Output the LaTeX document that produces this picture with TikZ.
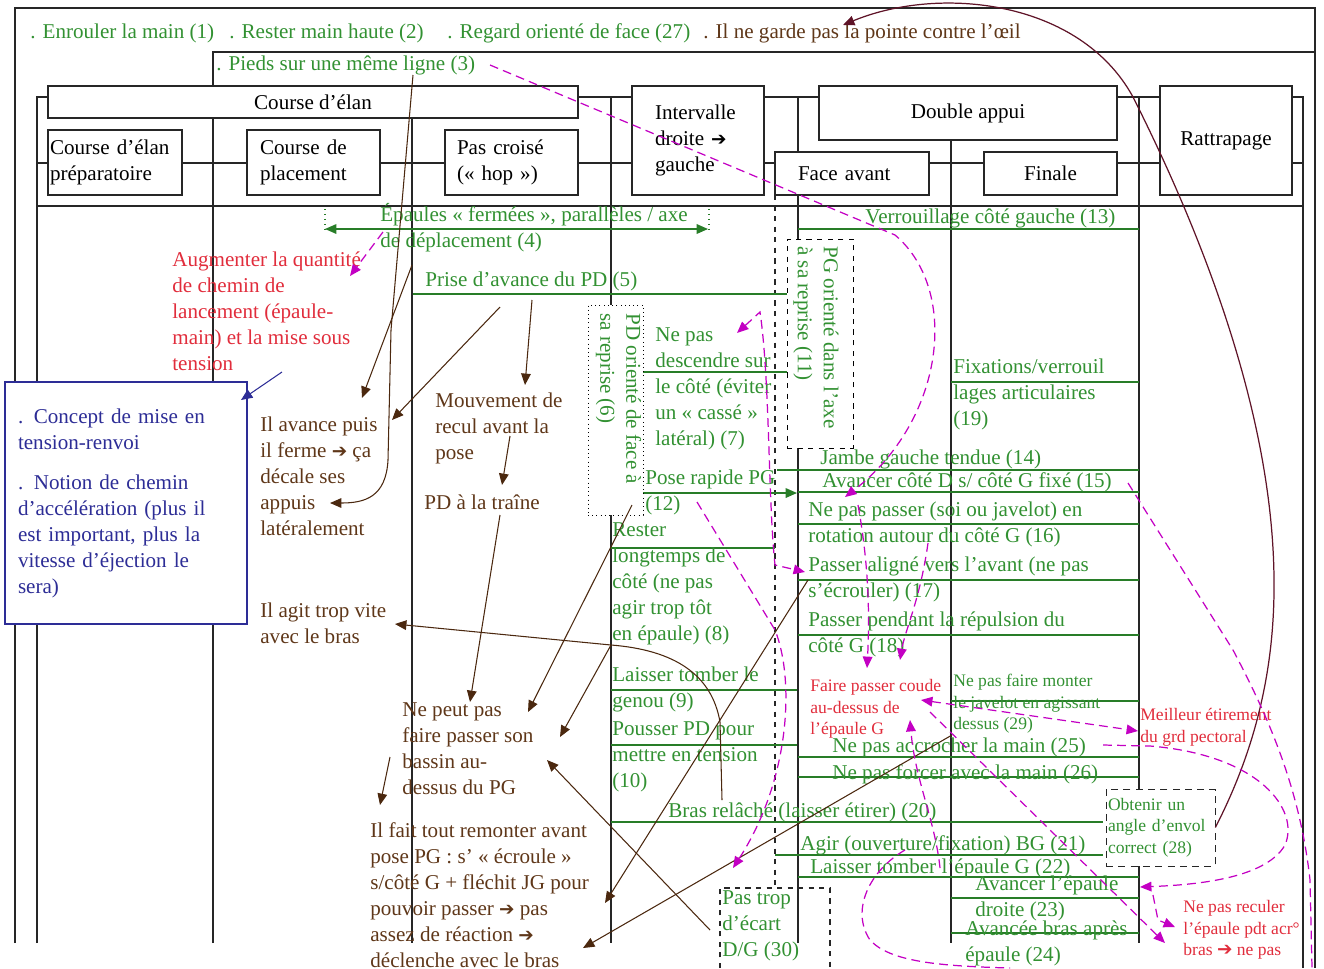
\documentclass[tikz,border=0pt]{standalone}
\usepackage{fontspec}
\setmainfont{Liberation Serif}
\newfontfamily\symfont{DejaVu Sans}
\usetikzlibrary{arrows.meta}

\definecolor{txtgreen}{RGB}{50,145,50}
\definecolor{linegreen}{RGB}{40,125,40}
\definecolor{txtbrown}{RGB}{95,55,25}
\definecolor{arrbrown}{RGB}{75,40,15}
\definecolor{txtred}{RGB}{225,45,60}
\definecolor{txtblue}{RGB}{45,45,150}
\definecolor{pinkdash}{RGB}{195,0,195}
\definecolor{curvered}{RGB}{95,20,40}

\newcommand{\bodyfont}{\fontsize{12}{14.8}\selectfont}
\newcommand{\smallfont}{\fontsize{10}{12.3}\selectfont}
\newcommand{\fleche}{{\symfont\fontsize{10.5}{14.8}\selectfont ➔}}

\tikzset{
  gridline/.style={draw=black!85, line width=0.9pt},
  phase/.style={draw=black!85, line width=0.9pt, fill=white, inner sep=0pt, font=\bodyfont},
  remark/.style={inner sep=0pt, anchor=west, align=left, font=\bodyfont},
  gtext/.style={remark, text=txtgreen},
  btext/.style={remark, text=txtbrown},
  rtext/.style={remark, text=txtred},
  gsmall/.style={remark, text=txtgreen, font=\smallfont},
  rsmall/.style={remark, text=txtred, font=\smallfont},
  gline/.style={draw=linegreen, line width=0.8pt},
  brarrow/.style={draw=arrbrown, line width=0.6pt},
  pkarrow/.style={draw=pinkdash, line width=0.7pt, dash pattern=on 5pt off 3pt},
}

\begin{document}
\begin{tikzpicture}[x=0.02cm, y=-0.02cm, >={Triangle[length=6.5pt,width=5.5pt]}]
\useasboundingbox (0,0) rectangle (1324,968);

% grille des phases
\draw [gridline] (15,943) -- (15,8) -- (1315,8) -- (1315,968);
\draw [gridline] (213,943) -- (213,52) -- (1315,52);
\draw [gridline] (37,943) -- (37,97) -- (1303,97) -- (1303,968);
\draw [gridline] (37,163) -- (1303,163);
\draw [gridline] (37,206) -- (1303,206);
\draw [gridline] (412,118) -- (412,943);
\draw [gridline] (611,97) -- (611,943);
\draw [gridline] (798,97) -- (798,943);
\draw [gridline] (951,140) -- (951,943);
\draw [gridline] (1139,97) -- (1139,943);
\draw [gridline, dashed] (775,195) -- (775,885);
\draw [gridline, dashed] (720,968) -- (720,888) -- (830,888) -- (830,968);

\node [phase, minimum width=10.6cm, minimum height=0.64cm] (elan) at (313,102) {Course d'élan};
\node [phase, minimum width=2.68cm, minimum height=1.3cm, text width=2.6cm, align=left] (prep) at (115,162.5) {Course d'élan\\préparatoire};
\node [phase, minimum width=2.66cm, minimum height=1.3cm, text width=2.14cm, align=left] (placement) at (313.5,162.5) {Course de\\placement};
\node [phase, minimum width=2.66cm, minimum height=1.3cm, text width=2.18cm, align=left] (hop) at (511.5,162.5) {Pas croisé\\(« hop »)};
\node [phase, minimum width=2.64cm, minimum height=2.18cm, text width=1.72cm, align=left] (intervalle) at (698,140.5) {Intervalle\\droite \fleche\\gauche};
\node [phase, minimum width=5.96cm, minimum height=1.08cm] (appui) at (968,113) {Double appui};
\node [phase, minimum width=3.08cm, minimum height=0.86cm, text width=2.16cm, align=left] (faceavant) at (852,173.5) {Face avant};
\node [phase, minimum width=2.66cm, minimum height=0.86cm] (finale) at (1050.5,173.5) {Finale};
\node [phase, minimum width=2.64cm, minimum height=2.18cm] (rattrapage) at (1226,140.5) {Rattrapage};

% lignes vertes
\draw [gline] (798,229) -- (1139,229);
\draw [gline] (413,294) -- (787,294);
\draw [gline] (643,372) -- (787,372);
\draw [gline] (777,470) -- (1139,470);
\draw [gline] (798,492) -- (1139,492);
\draw [gline] (798,524) -- (1139,524);
\draw [gline] (798,580) -- (1139,580);
\draw [gline] (798,635) -- (1139,635);
\draw [gline] (951,382) -- (1139,382);
\draw [gline] (611,548) -- (775,548);
\draw [gline] (611,690) -- (797,690);
\draw [gline] (611,745) -- (797,745);
\draw [gline] (611,822) -- (1103,822);
\draw [gline] (951,701) -- (1139,701);
\draw [gline] (798,757) -- (1139,757);
\draw [gline] (798,777) -- (1139,777);
\draw [gline] (775,855) -- (1103,855);
\draw [gline] (798,877) -- (1139,877);
\draw [gline] (951,898) -- (1139,898);
\draw [gline] (951,933) -- (1139,933);
\draw [gline, dotted] (325,209) -- (325,229);
\draw [gline, dotted] (709,209) -- (709,229);
\draw [gline, <->] (325,229) -- (708,229);
\draw [gline, ->] (643,493) -- (797,493);

\node [draw, dotted, fill=white, minimum width=1.1cm, minimum height=4.2cm, inner sep=0pt] (cadre6) at (615.5,410) {};
\node [gtext, rotate=-90, anchor=west] (reprise6) at (618.5,313) {PD orienté de face à\\sa reprise (6)};
\node [draw, dashed, fill=white, minimum width=1.32cm, minimum height=4.18cm, inner sep=0pt] (cadre11) at (820,343.5) {};
\node [gtext, rotate=-90, anchor=west] (reprise11) at (816,246) {PG orienté dans l'axe\\à sa reprise (11)};
\node [draw=black!85, dash pattern=on 4pt off 3pt, fill=white, minimum width=2.18cm, minimum height=1.54cm, text width=2.1cm, align=left, inner sep=0pt, font=\smallfont, text=txtgreen] (envol) at (1160.5,827.5) {Obtenir un\\angle d'envol\\correct (28)};
\node [draw=txtblue, line width=0.9pt, fill=white, text=txtblue, minimum width=4.84cm, minimum height=4.84cm, text width=4.32cm, align=left, inner sep=0pt, font=\bodyfont] (concept) at (126,503) {. Concept de mise en\\tension-renvoi\\[0.28cm]. Notion de chemin\\d'accélération (plus il\\est important, plus la\\vitesse d'éjection le\\sera)};

% textes
\node [gtext] (enrouler) at (30,33) {. Enrouler la main (1)};
\node [gtext] (rester) at (229,33) {. Rester main haute (2)};
\node [gtext] (regard) at (447,33) {. Regard orienté de face (27)};
\node [btext] (pointe) at (703,33) {. Il ne garde pas la pointe contre l'œil};
\node [gtext] (pieds) at (216,65) {. Pieds sur une même ligne (3)};
\node [gtext] (epaules) at (380,228) {Épaules « fermées », parallèles / axe\\de déplacement (4)};
\node [gtext] (avancepd) at (425,281) {Prise d'avance du PD (5)};
\node [gtext] (descendre) at (655,388.5) {Ne pas\\descendre sur\\le côté (éviter\\un « cassé »\\latéral) (7)};
\node [gtext] (poserapide) at (645,492.5) {Pose rapide PG\\(12)};
\node [gtext] (longtemps) at (612,584) {Rester\\longtemps de\\côté (ne pas\\agir trop tôt\\en épaule) (8)};
\node [gtext] (genou) at (612,689) {Laisser tomber le\\genou (9)};
\node [gtext] (pousser) at (612,757) {Pousser PD pour\\mettre en tension\\(10)};
\node [gtext] (relache) at (668,812) {Bras relâché (laisser étirer) (20)};
\node [gtext] (verrouillage) at (865,218) {Verrouillage côté gauche (13)};
\node [gtext] (fixations) at (953,394.5) {Fixations/verrouil\\lages articulaires\\(19)};
\node [gtext] (jambe) at (820,459) {Jambe gauche tendue (14)};
\node [gtext] (cotefixe) at (822,482) {Avancer côté D s/ côté G fixé (15)};
\node [gtext] (rotation) at (808,524) {Ne pas passer (soi ou javelot) en\\rotation autour du côté G (16)};
\node [gtext] (aligne) at (808,579) {Passer aligné vers l'avant (ne pas\\s'écrouler) (17)};
\node [gtext] (repulsion) at (808,634) {Passer pendant la répulsion du\\côté G (18)};
\node [gtext] (accrocher) at (832,747) {Ne pas accrocher la main (25)};
\node [gtext] (forcer) at (832,774) {Ne pas forcer avec la main (26)};
\node [gtext] (agir) at (800,845) {Agir (ouverture/fixation) BG (21)};
\node [gtext] (tomberepaule) at (810,868) {Laisser tomber l'épaule G (22)};
\node [gtext] (avancerepaule) at (975,898) {Avancer l'épaule\\droite (23)};
\node [gtext] (avanceebras) at (965,943) {Avancée bras après\\épaule (24)};
\node [gtext] (ecart) at (722,926) {Pas trop\\d'écart\\D/G (30)};
\node [gsmall] (monter) at (953,704) {Ne pas faire monter\\le javelot en agissant\\dessus (29)};
\node [rsmall] (coude) at (810,709) {Faire passer coude\\au-dessus de\\l'épaule G};
\node [rsmall] (etirement) at (1140,727) {Meilleur étirement\\du grd pectoral};
\node [rsmall] (reculer) at (1183,930) {Ne pas reculer\\l'épaule pdt acr°\\bras \fleche{} ne pas};
\node [rtext] (augmenter) at (172,311) {Augmenter la quantité\\de chemin de\\lancement (épaule-\\main) et la mise sous\\tension};
\node [btext] (ferme) at (260,476.5) {Il avance puis\\il ferme \fleche{} ça\\décale ses\\appuis\\latéralement};
\node [btext] (recul) at (435,428) {Mouvement de\\recul avant la\\pose};
\node [btext] (traine) at (424,502) {PD à la traîne};
\node [btext] (tropvite) at (260,623) {Il agit trop vite\\avec le bras};
\node [btext] (bassin) at (402,749) {Ne peut pas\\faire passer son\\bassin au-\\dessus du PG};
\node [btext] (remonter) at (370,895.5) {Il fait tout remonter avant\\pose PG : s' « écroule »\\s/côté G + fléchit JG pour\\pouvoir passer \fleche{} pas\\assez de réaction \fleche\\déclenche avec le bras};

% points d'attache des fleches
\coordinate (pieds-a) at (413,75);
\coordinate (appuis-in) at (330,503);
\coordinate (prise-a) at (412,265);
\coordinate (avance-in) at (362,398);
\coordinate (prise-b) at (500,307);
\coordinate (ferme-in) at (392,420);
\coordinate (prise-c) at (532,300);
\coordinate (recul-in) at (525,385);
\coordinate (recul-out) at (510,436);
\coordinate (traine-in) at (502,485);
\coordinate (traine-out) at (500,515);
\coordinate (bassin-in1) at (470,702);
\coordinate (relache-a) at (722,800);
\coordinate (coin8) at (611,645);
\coordinate (vite-in) at (395,624);
\coordinate (rester-a) at (632,505);
\coordinate (bassin-in2) at (528,712);
\coordinate (bassin-in3) at (560,737);
\coordinate (ecart-a) at (710,930);
\coordinate (bassin-in4) at (547,760);
\coordinate (monter-a) at (952,735);
\coordinate (bras-in) at (583,948);
\coordinate (aligne-a) at (808,580);
\coordinate (pouvoir-in) at (605,903);
\coordinate (bassin-out) at (390,757);
\coordinate (remonter-in) at (380,805);
\coordinate (tension-a) at (282,372);
\coordinate (concept-in) at (241,400);
\coordinate (pointe-in) at (843,25);

% fleches brunes
\draw [brarrow, ->] (pieds-a) -- (391,330) -- (388,460) .. controls (386,497) and (365,503) .. (appuis-in);
\draw [brarrow, ->] (prise-a) -- (avance-in);
\draw [brarrow, ->] (prise-b) -- (ferme-in);
\draw [brarrow, ->] (prise-c) -- (recul-in);
\draw [brarrow, ->] (recul-out) -- (traine-in);
\draw [brarrow, ->] (traine-out) -- (bassin-in1);
\draw [brarrow, ->] (relache-a) -- (720,722) .. controls (712,675) and (675,650) .. (coin8) -- (vite-in);
\draw [brarrow, ->] (rester-a) -- (bassin-in2);
\draw [brarrow, ->] (coin8) -- (bassin-in3);
\draw [brarrow, ->] (ecart-a) -- (bassin-in4);
\draw [brarrow, ->] (monter-a) -- (bras-in);
\draw [brarrow, ->] (aligne-a) -- (pouvoir-in);
\draw [brarrow, ->] (bassin-out) -- (remonter-in);
\draw [draw=txtblue, line width=0.6pt, ->] (tension-a) -- (concept-in);
\draw [draw=curvered, line width=0.7pt, ->] (envol.east) .. controls (1250,760) and (1275,680) .. (1274,580) .. controls (1273,430) and (1215,260) .. (1133,97) .. controls (1080,0) and (940,-15) .. (pointe-in);

% fleches roses en tirets
\coordinate (pieds-b) at (490,65);
\coordinate (cotefixe-in) at (845,497);
\coordinate (epaules-b) at (383,232);
\coordinate (augmenter-in) at (350,276);
\coordinate (descendre-in) at (737,333);
\coordinate (aligne-in) at (805,572);
\coordinate (pose-b) at (697,502);
\coordinate (ecart-in) at (733,868);
\coordinate (aligne-b) at (858,505);
\coordinate (coude-in1) at (867,668);
\coordinate (rotation-b) at (928,543);
\coordinate (coude-in2) at (900,660);
\coordinate (tomber-b) at (940,868);
\coordinate (coude-in3) at (910,720);
\coordinate (coude-in4) at (921,700);
\coordinate (etirement-in) at (1138,731);
\coordinate (accrocher-b) at (1103,745);
\coordinate (avancer-in) at (1140,887);
\coordinate (coude-b) at (930,712);
\coordinate (reculer-in1) at (1165,943);
\coordinate (avancer-b) at (1153,895);
\coordinate (reculer-in2) at (1175,927);
\coordinate (cotefixe-b) at (1128,483);
\coordinate (bas-droit) at (1312,968);
\coordinate (tomber-c) at (905,850);
\coordinate (bas-milieu) at (1010,968);

\draw [pkarrow, ->] (pieds-b) -- (895,235) .. controls (960,290) and (945,420) .. (cotefixe-in);
\draw [pkarrow, ->] (epaules-b) -- (augmenter-in);
\draw [pkarrow, <->] (descendre-in) -- (760,312) .. controls (770,380) and (768,500) .. (775,565) -- (aligne-in);
\draw [pkarrow, ->] (pose-b) -- (775,630) .. controls (795,680) and (790,780) .. (ecart-in);
\draw [pkarrow, ->] (aligne-b) .. controls (868,560) and (870,610) .. (coude-in1);
\draw [pkarrow, ->] (rotation-b) .. controls (920,600) and (905,630) .. (coude-in2);
\draw [pkarrow, ->] (tomber-b) .. controls (935,820) and (915,780) .. (coude-in3);
\draw [pkarrow, <->] (coude-in4) -- (etirement-in);
\draw [pkarrow, ->] (accrocher-b) -- (1150,746) .. controls (1260,755) and (1300,810) .. (1285,845) .. controls (1265,880) and (1190,885) .. (avancer-in);
\draw [pkarrow, ->] (coude-b) -- (reculer-in1);
\draw [pkarrow, ->] (avancer-b) -- (1158,920) -- (reculer-in2);
\draw [pkarrow] (cotefixe-b) -- (1233,650) .. controls (1270,720) and (1300,790) .. (1310,880) -- (bas-droit);
\draw [pkarrow] (tomber-c) .. controls (870,870) and (850,910) .. (870,940) .. controls (890,962) and (940,966) .. (bas-milieu);
\end{tikzpicture}
\end{document}
